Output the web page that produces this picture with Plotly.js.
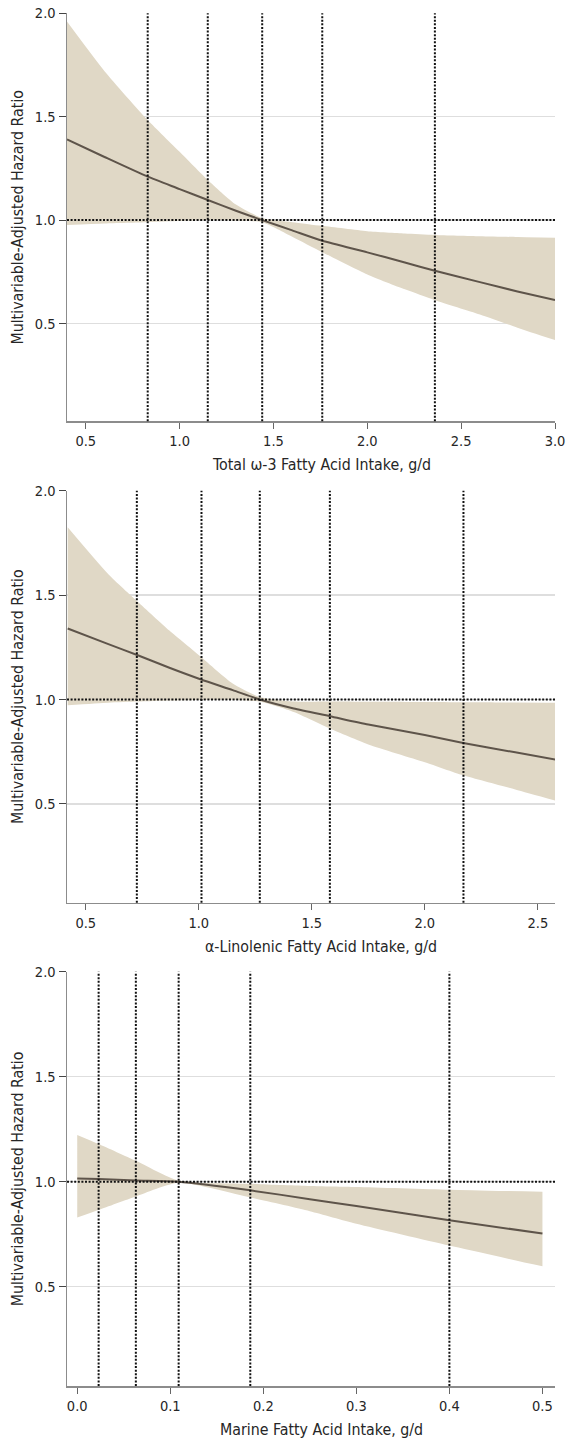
<!DOCTYPE html>
<html>
<head>
<meta charset="utf-8">
<script src="https://cdn.plot.ly/plotly-3.0.1.min.js"></script>
<style>
html,body{margin:0;padding:0;background:#fff;}
#chart{width:567px;height:1439px;}
</style>
</head>
<body>
<div id="chart"></div>
<script>
// Panel 1: Total omega-3
var x1  = [0.4, 0.6, 0.83, 1.0, 1.15, 1.3, 1.44, 1.6, 1.76, 2.0, 2.2, 2.36, 2.6, 2.8, 3.0];
var hr1 = [1.39, 1.305, 1.21, 1.15, 1.097, 1.045, 1.0, 0.95, 0.90, 0.844, 0.795, 0.755, 0.70, 0.655, 0.613];
var hi1 = [1.96, 1.72, 1.484, 1.33, 1.194, 1.075, 1.01, 0.99, 0.972, 0.946, 0.935, 0.928, 0.922, 0.918, 0.915];
var lo1 = [0.976, 0.984, 0.99, 0.995, 1.0, 0.997, 0.99, 0.92, 0.845, 0.737, 0.665, 0.613, 0.544, 0.48, 0.42];
var q1  = [0.83, 1.15, 1.44, 1.76, 2.36];
var xt1 = [0.5, 1.0, 1.5, 2.0, 2.5, 3.0];

// Panel 2: alpha-linolenic
var x2  = [0.42, 0.6, 0.73, 0.87, 1.01, 1.15, 1.27, 1.42, 1.58, 1.75, 2.0, 2.17, 2.4, 2.58];
var hr2 = [1.34, 1.265, 1.212, 1.152, 1.096, 1.045, 1.0, 0.957, 0.92, 0.88, 0.83, 0.792, 0.747, 0.712];
var hi2 = [1.825, 1.60, 1.468, 1.33, 1.204, 1.077, 1.012, 0.99, 0.99, 0.989, 0.988, 0.987, 0.986, 0.985];
var lo2 = [0.973, 0.985, 0.99, 0.995, 0.998, 0.998, 0.99, 0.94, 0.861, 0.785, 0.70, 0.637, 0.569, 0.515];
var q2  = [0.726, 1.012, 1.27, 1.58, 2.171];
var xt2 = [0.5, 1.0, 1.5, 2.0, 2.5];

// Panel 3: marine
var x3  = [0.0, 0.023, 0.063, 0.109, 0.186, 0.25, 0.3, 0.4, 0.5];
var hr3 = [1.016, 1.013, 1.006, 1.0, 0.959, 0.917, 0.884, 0.817, 0.753];
var hi3 = [1.223, 1.18, 1.10, 1.005, 0.99, 0.98, 0.975, 0.962, 0.952];
var lo3 = [0.83, 0.866, 0.93, 0.995, 0.925, 0.86, 0.80, 0.696, 0.597];
var q3  = [0.023, 0.063, 0.109, 0.186, 0.40];
var xt3 = [0.0, 0.1, 0.2, 0.3, 0.4, 0.5];

var yt = [0.5, 1.0, 1.5, 2.0];
var refHR = 1.0;
var xTitles = ["Total \u03c9-3 Fatty Acid Intake, g/d", "\u03b1-Linolenic Fatty Acid Intake, g/d", "Marine Fatty Acid Intake, g/d"];
var yTitle = "Multivariable-Adjusted Hazard Ratio";

var H = 1439;
var panels = [
  {x:x1, hr:hr1, hi:hi1, lo:lo1, q:q1, xt:xt1, xr:[0.4, 3.0], dom:[0.7072, 0.9908], titleY: 465},
  {x:x2, hr:hr2, hi:hi2, lo:lo2, q:q2, xt:xt2, xr:[0.417, 2.576], dom:[0.3727, 0.6590], titleY: 946.5},
  {x:x3, hr:hr3, hi:hi3, lo:lo3, q:q3, xt:xt3, xr:[-0.011, 0.5135], dom:[0.0368, 0.3247], titleY: 1429.5}
];

var FONT = "'DejaVu Sans Condensed', 'Liberation Sans Narrow', 'Open Sans', sans-serif";
var BAND = '#e0d8c6';
var LINE = '#5e544a';
var TXT = '#262626';

var traces = [];
var shapes = [];
var annotations = [];
var layout = {
  width: 567, height: H,
  margin: {l: 67, r: 12, t: 0, b: 0},
  paper_bgcolor: '#fff', plot_bgcolor: '#fff',
  showlegend: false,
  font: {family: FONT, size: 14, color: TXT}
};

panels.forEach(function(p, i){
  var n = i + 1;
  var xa = n === 1 ? 'x' : 'x' + n;
  var ya = n === 1 ? 'y' : 'y' + n;
  traces.push({x: p.x, y: p.hi, xaxis: xa, yaxis: ya, type: 'scatter', mode: 'lines',
    line: {width: 0, color: BAND, shape: 'spline', smoothing: 0.6}, hoverinfo: 'skip'});
  traces.push({x: p.x, y: p.lo, xaxis: xa, yaxis: ya, type: 'scatter', mode: 'lines',
    fill: 'tonexty', fillcolor: BAND, line: {width: 0, color: BAND, shape: 'spline', smoothing: 0.6}, hoverinfo: 'skip'});
  traces.push({x: p.x, y: p.hr, xaxis: xa, yaxis: ya, type: 'scatter', mode: 'lines',
    line: {width: 2, color: LINE, shape: 'spline', smoothing: 0.6}});
  p.q.forEach(function(v){
    shapes.push({type: 'line', xref: xa, yref: ya + ' domain', x0: v, x1: v, y0: 0, y1: 1,
      line: {color: '#111', width: 2, dash: '2px,1.6px'}, layer: 'above'});
  });
  shapes.push({type: 'line', xref: xa + ' domain', yref: ya, x0: 0, x1: 1, y0: refHR, y1: refHR,
    line: {color: '#111', width: 2, dash: '2px,1.6px'}, layer: 'above'});

  annotations.push({text: xTitles[i], xref: 'paper', yref: 'paper',
    x: (321 - 67) / (567 - 67 - 12), y: 1 - p.titleY / H, xanchor: 'center', yanchor: 'middle',
    showarrow: false, font: {family: FONT, size: 15.8, color: TXT}});

  layout['xaxis' + (n === 1 ? '' : n)] = {
    domain: [0, 1], anchor: ya, range: p.xr, tickvals: p.xt, tickformat: '.1f',
    showgrid: false, zeroline: false, showline: true, linecolor: '#8c8c8c', linewidth: 1.5,
    ticks: 'outside', ticklen: 6, tickcolor: '#666', tickwidth: 1,
    tickfont: {family: FONT, size: 14.5, color: TXT}
  };
  layout['yaxis' + (n === 1 ? '' : n)] = {
    domain: p.dom, anchor: xa, range: [0.027, 2.0], tickvals: yt, tickformat: '.1f',
    showgrid: true, gridcolor: '#dedede', gridwidth: 1.5, zeroline: false,
    showline: true, linecolor: '#8c8c8c', linewidth: 1.5,
    ticks: 'outside', ticklen: 7, tickcolor: '#444', tickwidth: 1,
    tickfont: {family: FONT, size: 14.5, color: TXT},
    title: {text: yTitle, font: {family: FONT, size: 15.8, color: TXT}, standoff: 7}
  };
});
layout.shapes = shapes;
layout.annotations = annotations;

Plotly.newPlot('chart', traces, layout, {staticPlot: true, displayModeBar: false});
</script>
</body>
</html>
